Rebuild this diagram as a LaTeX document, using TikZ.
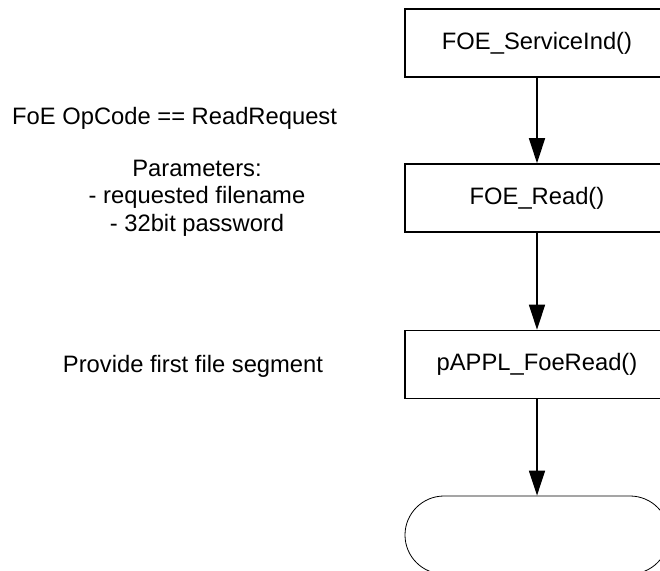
\documentclass[tikz,border=0pt]{standalone}
\usepackage{fontspec}
\setmainfont{Liberation Sans}
\usetikzlibrary{arrows.meta,shapes.misc}

\begin{document}
\begin{tikzpicture}[x=1pt,y=-1pt,
		font=\fontsize{23.75}{27.5}\selectfont,
		funcbox/.style={draw,line width=1.6pt,minimum width=264pt,minimum height=68pt,inner sep=0pt},
		endbox/.style={draw,line width=0.8pt,rounded rectangle,minimum width=264pt,minimum height=78pt,inner sep=0pt},
		flow/.style={line width=1.6pt,-{Triangle[length=25pt,width=16pt]}}]
		\clip (0,0) rectangle (660,570);
		\fill[white] (0,0) rectangle (660,570);
		% call chain
		\node[funcbox] (svc) at (537,43) {FOE\_ServiceInd()};
		\node[funcbox] (rd) at (537,198) {FOE\_Read()};
		\node[funcbox] (appl) at (537,364.5) {pAPPL\_FoeRead()};
		\node[endbox] (fin) at (537,535) {};
		\draw[flow] (svc) -- (rd);
		\draw[flow] (rd) -- (appl);
		\draw[flow] (appl) -- (fin);
		% notes
		\node[anchor=west,inner sep=0pt] (opc) at (12,118) {FoE OpCode == ReadRequest};
		\node[align=center,inner sep=0pt] (par) at (197,198) {Parameters:\\- requested filename\\- 32bit password};
		\node[inner sep=0pt] (seg) at (193,366) {Provide first file segment};
	\end{tikzpicture}
\end{document}
